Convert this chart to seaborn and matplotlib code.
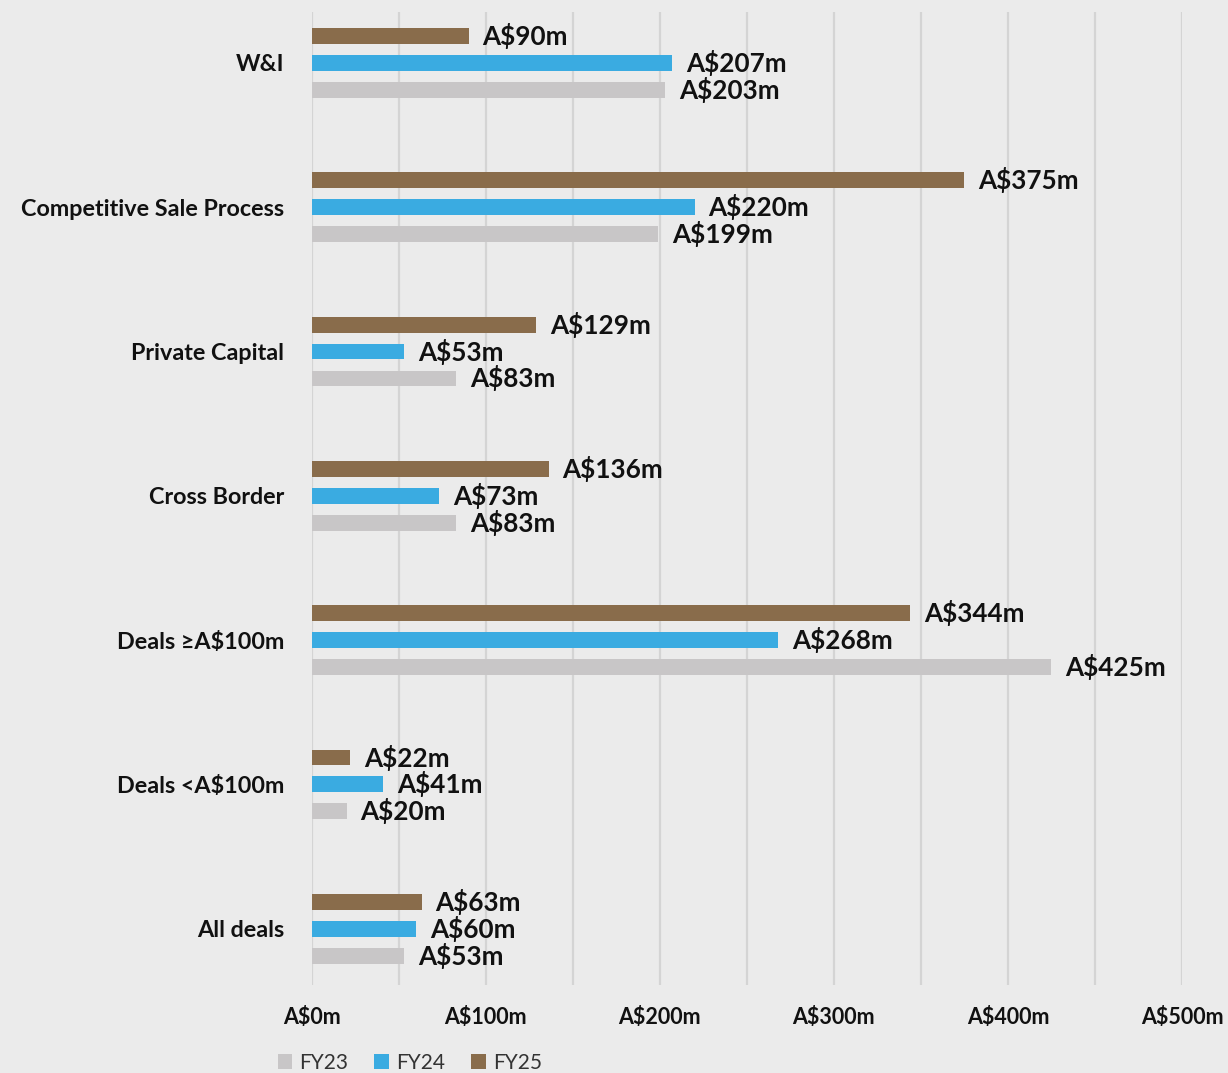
import matplotlib
matplotlib.use("Agg")
import matplotlib.pyplot as plt
from matplotlib.patches import Patch
from matplotlib.ticker import MultipleLocator
import pandas as pd
import seaborn as sns

# Deal categories, top to bottom
categories = ["W&I", "Competitive Sale Process", "Private Capital", "Cross Border",
              "Deals \u2265A$100m", "Deals <A$100m", "All deals"]

# Average deal value per category (A$m)
fy23 = [203, 199, 83, 83, 425, 20, 53]
fy24 = [207, 220, 53, 73, 268, 41, 60]
fy25 = [90, 375, 129, 136, 344, 22, 63]

years = ["FY25", "FY24", "FY23"]
palette = {"FY23": "#C8C6C7", "FY24": "#3AABE1", "FY25": "#896C4B"}

x_ticks = [0, 100, 200, 300, 400, 500]

rows = []
for yr, vals in zip(["FY23", "FY24", "FY25"], [fy23, fy24, fy25]):
    for cat, v in zip(categories, vals):
        rows.append({"category": cat, "year": yr, "value": v})
df = pd.DataFrame(rows)

sns.set_theme(style="white")
plt.rcParams["font.family"] = ["Lato", "DejaVu Sans"]

bg = "#EBEBEB"
fig = plt.figure(figsize=(12.28, 10.73), dpi=100, facecolor=bg)
ax = fig.add_axes([0.254, 0.082, 0.7085, 0.9068])
ax.set_facecolor(bg)

sns.barplot(data=df, y="category", x="value", hue="year", order=categories,
            hue_order=years, palette=palette, orient="h", width=0.56, gap=0.41,
            dodge=True, legend=False, ax=ax, saturation=1, linewidth=0,
            edgecolor="none")

ax.set_xlim(0, 500)
ax.set_ylim(6.39, -0.353)

ax.xaxis.set_major_locator(MultipleLocator(100))
ax.xaxis.set_minor_locator(MultipleLocator(50))
ax.grid(True, axis="x", which="both", color="#D4D4D4", linewidth=1.6)
ax.set_axisbelow(True)
for s in ax.spines.values():
    s.set_visible(False)

ax.set_xticks(x_ticks)
ax.set_xticklabels([f"A${t}m" for t in x_ticks], fontsize=15.5, fontweight="bold",
                   color="#111111")
ax.tick_params(axis="x", which="both", length=0, pad=16)
ax.tick_params(axis="y", length=0, pad=20)
for lbl in ax.get_yticklabels():
    lbl.set_fontsize(16.8)
    lbl.set_fontweight("bold")
    lbl.set_color("#111111")
ax.set_xlabel("")
ax.set_ylabel("")

# Value labels at the end of each bar
for container in ax.containers:
    ax.bar_label(container, labels=[f"A${int(round(b.get_width()))}m" for b in container],
                 padding=10, fontsize=18.8, fontweight="bold", color="#111111")

handles = [Patch(facecolor=palette[y], edgecolor="none") for y in ["FY23", "FY24", "FY25"]]
fig.legend(handles, ["FY23", "FY24", "FY25"], loc="center left",
           bbox_to_anchor=(0.226, 0.0095), ncol=3, frameon=False, fontsize=15,
           handlelength=0.7, handleheight=0.7, handletextpad=0.35, columnspacing=1.25,
           labelcolor="#333333", borderaxespad=0, borderpad=0)

fig.savefig("out.png", dpi=100, facecolor=bg)
